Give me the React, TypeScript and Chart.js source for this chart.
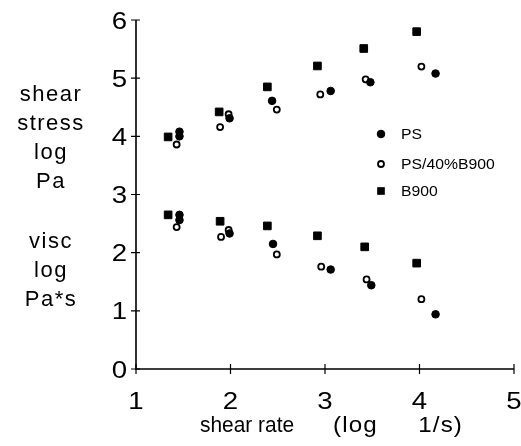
import React, { useEffect, useRef } from "react";
import { Chart, registerables } from "chart.js";

Chart.register(...registerables);

// shear rate (log 1/s) for each series
const psRate = [1.46, 1.46, 1.99, 2.44, 3.06, 3.48, 4.17];
const psStress = [4.08, 4.0, 4.31, 4.61, 4.78, 4.93, 5.08];
const psViscRate = [1.46, 1.46, 1.99, 2.45, 3.06, 3.49, 4.17];
const psVisc = [2.65, 2.56, 2.33, 2.15, 1.71, 1.44, 0.94];

const mixRate = [1.43, 1.89, 1.98, 2.49, 2.95, 3.43, 4.02];
const mixStress = [3.86, 4.16, 4.38, 4.46, 4.72, 4.98, 5.2];
const mixViscRate = [1.43, 1.9, 1.98, 2.49, 2.96, 3.44, 4.02];
const mixVisc = [2.44, 2.27, 2.39, 1.97, 1.76, 1.54, 1.2];

const bRate = [1.34, 1.88, 2.39, 2.92, 3.41, 3.97];
const bStress = [3.99, 4.42, 4.85, 5.21, 5.51, 5.8];
const bViscRate = [1.34, 1.89, 2.39, 2.92, 3.42, 3.97];
const bVisc = [2.65, 2.54, 2.46, 2.29, 2.1, 1.82];

const seriesNames = ["PS", "PS/40%B900", "B900"];
const xTickValues = [1, 2, 3, 4, 5];
const yTickValues = [0, 1, 2, 3, 4, 5, 6];
const leftLabelTop = ["shear", "stress", "log", "Pa"];
const leftLabelBottom = ["visc", "log", "Pa*s"];
const xTitleA = "shear rate";
const xTitleB = "(log";
const xTitleC = "1/s)";

const FONT = 'Arial, "Liberation Sans", Helvetica, sans-serif';

const pts = (xs: number[], ys: number[]) => xs.map((x, i) => ({ x, y: ys[i] }));

const filled = { pointStyle: "circle", pointRadius: 3.8, pointBackgroundColor: "#000", pointBorderColor: "#000", pointBorderWidth: 1 };
const hollow = { pointStyle: "circle", pointRadius: 3, pointBackgroundColor: "#fff", pointBorderColor: "#000", pointBorderWidth: 1.8 };
const square = { pointStyle: "rect", pointRadius: 5.4, pointBackgroundColor: "#000", pointBorderColor: "#000", pointBorderWidth: 1 };

function text(ctx: CanvasRenderingContext2D, t: string, x: number, y: number, align: CanvasTextAlign, sx: number) {
  ctx.save();
  ctx.translate(x, y);
  ctx.scale(sx, 1);
  ctx.textAlign = align;
  ctx.fillText(t, 0, 0);
  ctx.restore();
}

const decor = {
  id: "decor",
  afterDraw(chart: any) {
    const ctx = chart.ctx as CanvasRenderingContext2D;
    const xs = chart.scales.x;
    const ys = chart.scales.y;
    const x0 = xs.left;
    const y0 = ys.bottom;
    ctx.save();
    ctx.strokeStyle = "#000";
    ctx.lineWidth = 1.6;
    ctx.beginPath();
    ctx.moveTo(x0, ys.top);
    ctx.lineTo(x0, y0);
    ctx.lineTo(xs.right, y0);
    ctx.stroke();
    ctx.lineWidth = 1.2;
    ctx.beginPath();
    yTickValues.forEach((v) => {
      const y = ys.getPixelForValue(v);
      ctx.moveTo(x0 - 5, y);
      ctx.lineTo(x0 + 4, y);
    });
    xTickValues.forEach((v) => {
      const x = xs.getPixelForValue(v);
      ctx.moveTo(x, y0 - 5);
      ctx.lineTo(x, y0 + 5);
    });
    ctx.stroke();

    ctx.fillStyle = "#000";
    ctx.font = `24px ${FONT}`;
    ctx.textBaseline = "alphabetic";
    yTickValues.forEach((v) => {
      const y = ys.getPixelForValue(v);
      text(ctx, String(v), x0 - 9, y + 8.5, "right", 1.15);
    });
    xTickValues.forEach((v) => {
      const x = xs.getPixelForValue(v);
      text(ctx, String(v), x, y0 + 40, "center", 1.15);
    });

    // x axis title
    ctx.font = `22px ${FONT}`;
    text(ctx, xTitleA, 200, 432, "left", 0.95);
    (ctx as any).letterSpacing = "1px";
    text(ctx, xTitleB, 333, 432, "left", 1.1);
    text(ctx, xTitleC, 463, 432, "right", 1.1);
    (ctx as any).letterSpacing = "0px";

    // left labels
    ctx.font = `22px ${FONT}`;
    (ctx as any).letterSpacing = "1.5px";
    leftLabelTop.forEach((t, i) => text(ctx, t, 51, 101 + i * 29, "center", 1.0));
    leftLabelBottom.forEach((t, i) => text(ctx, t, 51, 248 + i * 29, "center", 1.0));
    (ctx as any).letterSpacing = "0px";

    // legend
    const legendY = [134, 164, 191];
    const styles = [filled, hollow, square];
    ctx.font = `15px ${FONT}`;
    ctx.textAlign = "left";
    ctx.textBaseline = "middle";
    seriesNames.forEach((name, i) => {
      const st: any = styles[i];
      const lx = 381;
      const ly = legendY[i];
      ctx.beginPath();
      if (st.pointStyle === "rect") {
        const s = st.pointRadius * Math.SQRT1_2;
        ctx.fillRect(lx - s, ly - s, 2 * s, 2 * s);
      } else {
        ctx.arc(lx, ly, st.pointRadius, 0, Math.PI * 2);
        ctx.fillStyle = st.pointBackgroundColor;
        ctx.fill();
        ctx.lineWidth = st.pointBorderWidth;
        ctx.strokeStyle = "#000";
        ctx.stroke();
      }
      ctx.fillStyle = "#000";
      text(ctx, name, 401, ly + 1, "left", 1.05);
    });
    ctx.restore();
  },
};

export default function App() {
  const ref = useRef<HTMLCanvasElement | null>(null);
  useEffect(() => {
    if (!ref.current) return;
    const chart = new Chart(ref.current, {
      type: "scatter",
      data: {
        datasets: [
          { label: seriesNames[0], data: pts(psRate, psStress), ...filled },
          { label: seriesNames[0], data: pts(psViscRate, psVisc), ...filled },
          { label: seriesNames[1], data: pts(mixRate, mixStress), ...hollow },
          { label: seriesNames[1], data: pts(mixViscRate, mixVisc), ...hollow },
          { label: seriesNames[2], data: pts(bRate, bStress), ...square },
          { label: seriesNames[2], data: pts(bViscRate, bVisc), ...square },
        ] as any,
      },
      options: {
        animation: false,
        responsive: false,
        layout: { padding: { top: 20, right: 7, left: 0, bottom: 0 } },
        plugins: { legend: { display: false }, tooltip: { enabled: false } },
        scales: {
          x: {
            type: "linear",
            min: 1,
            max: 5,
            ticks: { display: false },
            grid: { display: false },
            border: { display: false },
            afterFit: (s: any) => { s.height = 77; },
          },
          y: {
            type: "linear",
            min: 0,
            max: 6,
            ticks: { display: false },
            grid: { display: false },
            border: { display: false },
            afterFit: (s: any) => { s.width = 136; },
          },
        },
      },
      plugins: [decor],
    });
    return () => chart.destroy();
  }, []);
  return (
    <div style={{ position: "absolute", left: 0, top: 0, width: 521, height: 446, background: "#fff" }}>
      <canvas ref={ref} width={521} height={446} />
    </div>
  );
}
